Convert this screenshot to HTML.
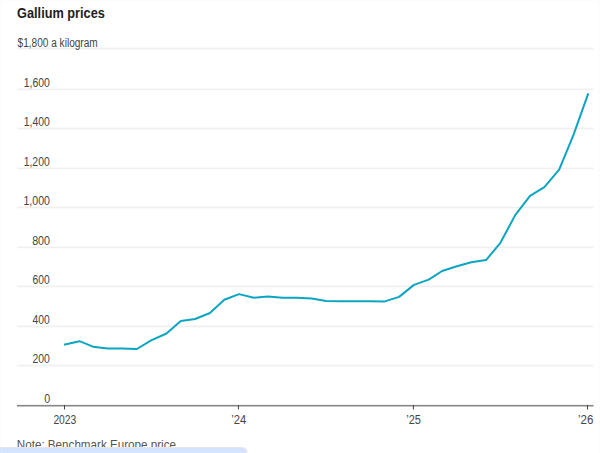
<!DOCTYPE html>
<html><head><meta charset="utf-8"><style>
html,body{margin:0;padding:0;background:#fff;width:600px;height:453px;overflow:hidden}
svg{display:block}
text{font-family:"Liberation Sans",sans-serif}
</style></head><body>
<svg width="600" height="453" viewBox="0 0 600 453">
<rect x="0" y="0" width="600" height="453" fill="#fff"/>
<rect x="599" y="0" width="1" height="453" fill="#fcfcfc"/>
<rect x="0" y="0" width="600" height="1" fill="#fcfcfc"/>
<rect x="0" y="0" width="1" height="453" fill="#fcfcfc"/>
<rect x="17" y="47.70" width="576.5" height="1.6" fill="#efefef"/>
<rect x="17" y="88.60" width="576.5" height="1.6" fill="#efefef"/>
<rect x="17" y="127.70" width="576.5" height="1.6" fill="#efefef"/>
<rect x="17" y="167.60" width="576.5" height="1.6" fill="#efefef"/>
<rect x="17" y="206.70" width="576.5" height="1.6" fill="#efefef"/>
<rect x="17" y="246.60" width="576.5" height="1.6" fill="#efefef"/>
<rect x="17" y="285.60" width="576.5" height="1.6" fill="#efefef"/>
<rect x="17" y="325.60" width="576.5" height="1.6" fill="#efefef"/>
<rect x="17" y="364.70" width="576.5" height="1.6" fill="#efefef"/>
<rect x="17" y="404.9" width="576.5" height="1.6" fill="#858585"/>
<rect x="64.0" y="405" width="1" height="4.5" fill="#444"/>
<rect x="237.9" y="405" width="1" height="4.5" fill="#444"/>
<rect x="412.9" y="405" width="1" height="4.5" fill="#444"/>
<rect x="587.0" y="405" width="1" height="4.5" fill="#444"/>
<text x="17.09" y="17.60" font-size="14.5" fill="#222" font-weight="bold" textLength="87.76" lengthAdjust="spacingAndGlyphs">Gallium prices</text>
<text x="17.59" y="46.80" font-size="12" fill="#444" textLength="80.11" lengthAdjust="spacingAndGlyphs">$1,800 a kilogram</text>
<text x="23.66" y="87.00" font-size="12" fill="#444" textLength="26.17" lengthAdjust="spacingAndGlyphs">1,600</text>
<text x="23.66" y="126.00" font-size="12" fill="#444" textLength="26.17" lengthAdjust="spacingAndGlyphs">1,400</text>
<text x="23.66" y="166.00" font-size="12" fill="#444" textLength="26.06" lengthAdjust="spacingAndGlyphs">1,200</text>
<text x="23.46" y="205.00" font-size="12" fill="#444" textLength="26.56" lengthAdjust="spacingAndGlyphs">1,000</text>
<text x="32.14" y="245.00" font-size="12" fill="#444" textLength="17.91" lengthAdjust="spacingAndGlyphs">800</text>
<text x="32.59" y="284.00" font-size="12" fill="#444" textLength="17.21" lengthAdjust="spacingAndGlyphs">600</text>
<text x="32.56" y="324.00" font-size="12" fill="#444" textLength="17.33" lengthAdjust="spacingAndGlyphs">400</text>
<text x="32.57" y="363.00" font-size="12" fill="#444" textLength="17.31" lengthAdjust="spacingAndGlyphs">200</text>
<text x="44.34" y="403.00" font-size="12" fill="#444" textLength="5.95" lengthAdjust="spacingAndGlyphs">0</text>
<text x="53.40" y="424.20" font-size="12" fill="#444" textLength="22.92" lengthAdjust="spacingAndGlyphs">2023</text>
<text x="231.33" y="424.20" font-size="12" fill="#444" textLength="14.99" lengthAdjust="spacingAndGlyphs">’24</text>
<text x="406.24" y="424.20" font-size="12" fill="#444" textLength="14.65" lengthAdjust="spacingAndGlyphs">’25</text>
<text x="578.05" y="424.20" font-size="12" fill="#444" textLength="15.40" lengthAdjust="spacingAndGlyphs">’26</text>
<text x="16.81" y="449.00" font-size="13" fill="#555" textLength="159.15" lengthAdjust="spacingAndGlyphs">Note: Benchmark Europe price</text>
<path d="M64.00,344.70 L79.51,341.20 L92.89,346.70 L107.70,348.60 L122.03,348.40 L136.84,349.00 L151.17,340.30 L166.48,333.50 L180.79,321.00 L195.12,319.00 L209.93,313.00 L224.26,299.80 L239.07,294.10 L253.88,297.80 L267.74,296.40 L282.55,297.70 L296.88,297.70 L311.69,298.50 L326.02,301.10 L340.83,301.30 L355.64,301.30 L369.97,301.30 L384.78,301.40 L399.12,296.90 L413.93,284.90 L428.74,279.60 L442.11,271.00 L456.92,266.30 L471.25,262.20 L486.06,260.10 L500.40,242.80 L515.21,215.10 L530.02,195.90 L544.35,187.10 L559.16,169.70 L573.50,134.90 L588.30,93.40" fill="none" stroke="#0ca5c1" stroke-width="2" stroke-linejoin="round"/>
<path d="M0,448 H242.5 A4,4 0 0 1 246.5,452 V453 H0 Z" fill="#d3e3fd"/>
<rect x="2" y="451" width="243" height="1" fill="#d9e7fd"/>
<rect x="1" y="448" width="1" height="5" fill="#dce9fc"/>
<path d="M0,447.5 H242.5 A4.5,4.5 0 0 1 247,452 V453.5" fill="none" stroke="#e9e6e2" stroke-width="1"/>
</svg>
</body></html>
